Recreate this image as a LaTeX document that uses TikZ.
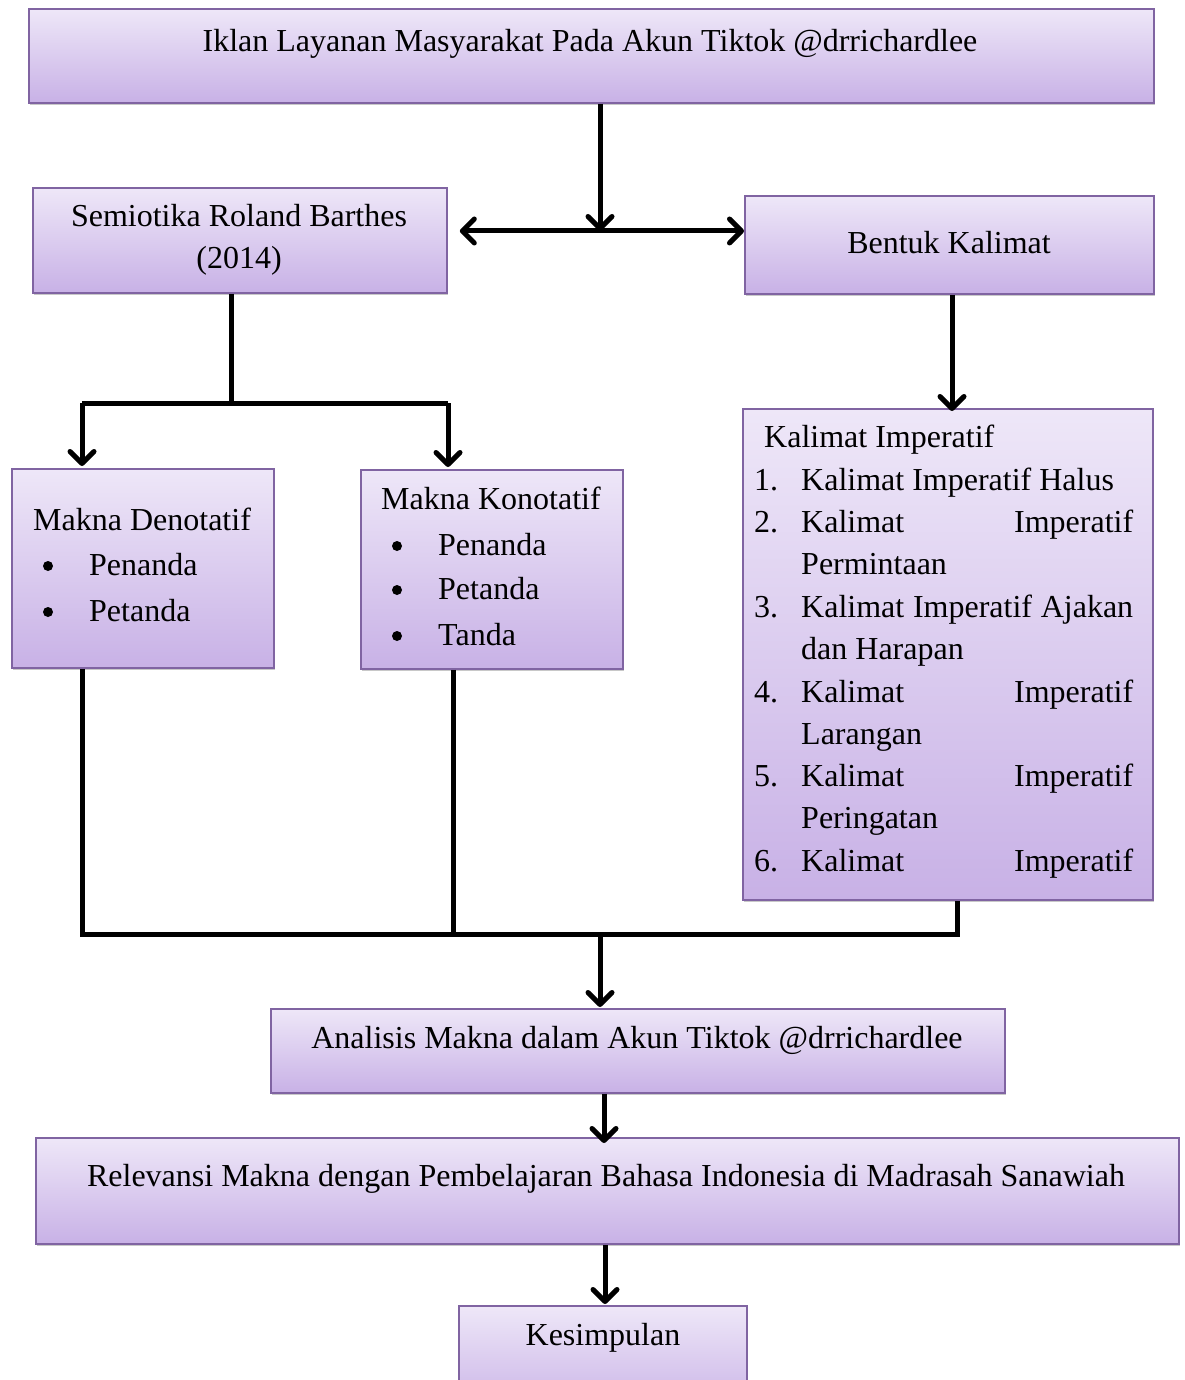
\documentclass[tikz,border=0pt]{standalone}
\usepackage{fontspec}
\setmainfont{Liberation Serif}
\usetikzlibrary{arrows.meta,shadows}
\definecolor{boxtop}{HTML}{EEE7F8}
\definecolor{boxbot}{HTML}{C8B1E6}
\definecolor{boxline}{HTML}{8064A2}
\begin{document}
\begin{tikzpicture}[x=1pt,y=-1pt,
  box/.style={draw=boxline, line width=1.8pt, top color=boxtop, bottom color=boxbot,
    drop shadow={shadow xshift=0.8pt, shadow yshift=-2.5pt, opacity=0.3, fill=black!70},
    inner sep=0pt, anchor=north west},
  txt/.style={font=\fontsize{32}{38}\selectfont, inner sep=0pt, anchor=base},
  ltxt/.style={txt, anchor=base west},
  bul/.style={circle, fill=black, inner sep=0pt, minimum size=10pt},
  conn/.style={line width=5pt, line join=miter},
  tip/.tip={Straight Barb[length=12pt, width=24pt, line cap=round, line join=round]},
  arr/.style={conn, -tip},
  darr/.style={conn, tip-tip}
]
\useasboundingbox (0,0) rectangle (1184,1380);
\fill[white] (0,0) rectangle (1184,1380);

% boxes
\node[box, minimum width=1125pt, minimum height=94pt] (top) at (28,8) {};
\node[box, minimum width=414pt, minimum height=105pt] (semi) at (32,187) {};
\node[box, minimum width=409pt, minimum height=98pt] (bent) at (744,195) {};
\node[box, minimum width=262pt, minimum height=199pt] (den) at (11,468) {};
\node[box, minimum width=262pt, minimum height=199pt] (kon) at (360,469) {};
\node[box, minimum width=410pt, minimum height=491pt] (imp) at (742,408) {};
\node[box, minimum width=734pt, minimum height=84pt] (anl) at (270,1008) {};
\node[box, minimum width=1143pt, minimum height=106pt] (rel) at (35,1137) {};
\node[box, minimum width=288pt, minimum height=110pt] (kes) at (458,1305) {};

% texts
\node[txt] (topt) at (590,52) {Iklan Layanan Masyarakat Pada Akun Tiktok @drrichardlee};
\node[txt] (semit1) at (239,227) {Semiotika Roland Barthes};
\node[txt] (semit2) at (239,269) {(2014)};
\node[txt] (bentt) at (949,253) {Bentuk Kalimat};

\node[ltxt] (dent) at (33,530) {Makna Denotatif};
\node[bul] (denb1) at (48,566) {};
\node[ltxt] (dent1) at (89,575) {Penanda};
\node[bul] (denb2) at (48,612) {};
\node[ltxt] (dent2) at (89,621) {Petanda};

\node[ltxt] (kont) at (381,509) {Makna Konotatif};
\node[bul] (konb1) at (397,546) {};
\node[ltxt] (kont1) at (438,555) {Penanda};
\node[bul] (konb2) at (397,590) {};
\node[ltxt] (kont2) at (438,599) {Petanda};
\node[bul] (konb3) at (397,636) {};
\node[ltxt] (kont3) at (438,645) {Tanda};

\node[ltxt] (impt) at (764,447) {Kalimat Imperatif};
\node[ltxt] (n1) at (754,490) {1.};
\node[ltxt] (i1) at (801,490) {Kalimat Imperatif Halus};
\node[ltxt] (n2) at (754,532) {2.};
\node[ltxt] (i2a) at (801,532) {\makebox[332pt][l]{Kalimat\hfill Imperatif}};
\node[ltxt] (i2b) at (801,574) {Permintaan};
\node[ltxt] (n3) at (754,617) {3.};
\node[ltxt] (i3a) at (801,617) {\makebox[332pt][l]{Kalimat\hfill Imperatif\hfill Ajakan}};
\node[ltxt] (i3b) at (801,659) {dan Harapan};
\node[ltxt] (n4) at (754,702) {4.};
\node[ltxt] (i4a) at (801,702) {\makebox[332pt][l]{Kalimat\hfill Imperatif}};
\node[ltxt] (i4b) at (801,744) {Larangan};
\node[ltxt] (n5) at (754,786) {5.};
\node[ltxt] (i5a) at (801,786) {\makebox[332pt][l]{Kalimat\hfill Imperatif}};
\node[ltxt] (i5b) at (801,828) {Peringatan};
\node[ltxt] (n6) at (754,871) {6.};
\node[ltxt] (i6a) at (801,871) {\makebox[332pt][l]{Kalimat\hfill Imperatif}};

\node[txt] (anlt) at (637,1048) {Analisis Makna dalam Akun Tiktok @drrichardlee};
\node[txt] (relt) at (606,1186) {Relevansi Makna dengan Pembelajaran Bahasa Indonesia di Madrasah Sanawiah};
\node[txt] (kest) at (603,1345) {Kesimpulan};

% junction coordinates
\coordinate (j1) at (600,231);
\coordinate (j2) at (231,403);
\coordinate (dA) at (82,403);
\coordinate (kA) at (448,403);
\coordinate (bD) at (82,934);
\coordinate (bK) at (453,934);
\coordinate (bI) at (957,934);
\coordinate (bM) at (600,934);
\coordinate (xB) at (952,0);
\coordinate (xA) at (604,0);
\coordinate (xR) at (605,0);

% connectors
\draw[arr] (top.south -| j1) -- (j1);
\draw[darr] ([xshift=12pt]j1 -| semi.east) -- (j1 -| bent.west);
\draw[arr] (bent.south -| xB) -- ([yshift=-3pt]imp.north -| xB);
\draw[conn] (j2 |- semi.south) -- (j2);
\draw[conn] (dA) -- (kA);
\draw[arr] (dA) -- ([yshift=2pt]dA |- den.north);
\draw[arr] (kA) -- ([yshift=2pt]kA |- kon.north);
\draw[conn] (bD |- den.south) -- (bD) -- (bI) -- (bI |- imp.south);
\draw[conn] (bK |- kon.south) -- (bK);
\draw[arr] (bM) -- ([yshift=1pt]bM |- anl.north);
\draw[arr] (anl.south -| xA) -- ([yshift=-6pt]rel.north -| xA);
\draw[arr] (rel.south -| xR) -- ([yshift=1pt]kes.north -| xR);
\end{tikzpicture}
\end{document}
